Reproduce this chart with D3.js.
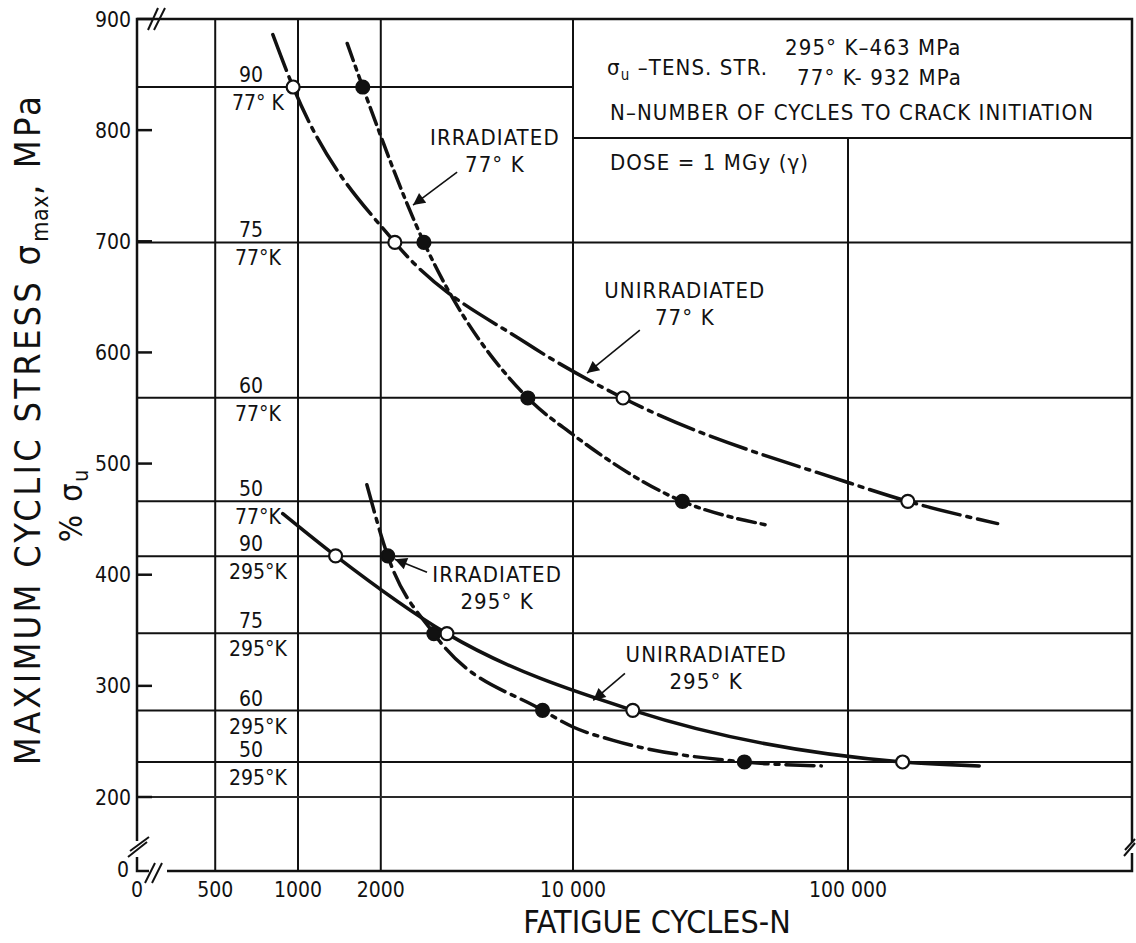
<!DOCTYPE html>
<html>
<head>
<meta charset="utf-8">
<title>Fatigue cycles vs maximum cyclic stress</title>
<script src="https://cdn.jsdelivr.net/npm/d3@7/dist/d3.min.js"></script>
<style>
  body { margin: 0; background: #fff; }
  text { font-family: "DejaVu Sans Condensed", "DejaVu Sans", sans-serif; font-stretch: condensed; fill: #111; }
</style>
</head>
<body>
<svg id="chart" width="1136" height="943"></svg>
<script>
// ---- values ----
const yTickValues = [900, 800, 700, 600, 500, 400, 300, 200];
const xGridValues = [500, 1000, 2000, 10000, 100000];
const xTickLabels = ["500", "1000", "2000", "10 000", "100 000"];

// % of tensile strength lines (77 K: 932 MPa, 295 K: 463 MPa)
const pctStress = [838.8, 699, 559.2, 466, 416.7, 347.3, 277.8, 231.5];
const pctNumbers = ["90", "75", "60", "50", "90", "75", "60", "50"];
const pctTemps = ["77° K", "77°K", "77°K", "77°K", "295°K", "295°K", "295°K", "295°K"];

// curves: [cycles N, stress MPa]
const unirr77Curve = [[810, 886], [960, 838.8], [2250, 699], [6800, 608], [15200, 559], [100000, 483], [165000, 466], [350000, 446]];
const unirr77Points = [[960, 838.8], [2250, 699], [15200, 559], [165000, 466]];

const irr77Curve = [[1510, 878], [1720, 838.8], [2870, 699], [6850, 559], [10000, 526], [25000, 466], [50000, 445]];
const irr77Points = [[1720, 838.8], [2870, 699], [6850, 559], [25000, 466]];

const unirr295Curve = [[880, 455], [1370, 417], [3480, 347], [16500, 278], [158000, 231.5], [300000, 228]];
const unirr295Points = [[1370, 417], [3480, 347], [16500, 278], [158000, 231.5]];

const irr295Curve = [[1780, 481], [2120, 417], [3120, 347], [7750, 278], [10000, 263], [14000, 251], [42000, 231.5], [80000, 228]];
const irr295Points = [[2120, 417], [3120, 347], [7750, 278], [42000, 231.5]];

// annotation labels: text anchor, arrow start, arrow tip (N, MPa)
const notes = [
  {lines: ["IRRADIATED", "77° K"], at: [5200, 786.6], from: [3790, 762.3], to: [2620, 732.6]},
  {lines: ["UNIRRADIATED", "77° K"], at: [25500, 648.9], from: [17500, 620], to: [11250, 581.4]},
  {lines: ["IRRADIATED", "295° K"], at: [5300, 393.3], from: [2945, 402.3], to: [2250, 414]},
  {lines: ["UNIRRADIATED", "295° K"], at: [30500, 321.3], from: [15450, 311.3], to: [11850, 287]}
];

// ---- layout ----
const svg = d3.select("#chart");
const left = 137, right = 1132, bottom = 871;

const x = d3.scaleLog().domain([1000, 100000]).range([298, 848]);
const y = d3.scaleLinear().domain([200, 900]).range([797, 19]);
const plotTop = y(900);
const legendBottom = 138;

const defs = svg.append("defs");
defs.append("marker")
  .attr("id", "arrow").attr("viewBox", "0 0 10 10")
  .attr("refX", 10).attr("refY", 5)
  .attr("markerWidth", 19).attr("markerHeight", 12)
  .attr("markerUnits", "userSpaceOnUse").attr("orient", "auto")
  .append("path").attr("d", "M0,0L10,5L0,10Z").attr("fill", "#111");

const grid = svg.append("g").attr("stroke", "#111").attr("stroke-width", 2);

// vertical grid
grid.selectAll("line.v")
  .data(xGridValues)
  .enter().append("line")
  .attr("x1", d => x(d)).attr("x2", d => x(d))
  .attr("y1", plotTop).attr("y2", bottom);

// horizontal % lines
grid.selectAll("line.h")
  .data(pctStress)
  .enter().append("line")
  .attr("x1", left).attr("x2", right)
  .attr("y1", d => y(d)).attr("y2", d => y(d));

// 200 MPa line, a little lighter like the scan
grid.append("line")
  .attr("x1", left).attr("x2", right)
  .attr("y1", y(200)).attr("y2", y(200))
  .attr("stroke", "#2a2a2a").attr("stroke-width", 1.8);

// legend box (covers the grid behind it)
const lx = x(10000);
svg.append("rect")
  .attr("x", lx).attr("y", plotTop)
  .attr("width", right - lx).attr("height", legendBottom - plotTop)
  .attr("fill", "#fff").attr("stroke", "#111").attr("stroke-width", 2);

// frame with breaks
const frame = svg.append("g").attr("stroke", "#111").attr("stroke-width", 2.5).attr("fill", "none");
frame.append("path").attr("d", `M${left},${bottom - 30}V${plotTop}H${right}V${bottom - 28}`);
frame.append("path").attr("d", `M${right},${bottom - 18}V${bottom}H${left + 30}`);
frame.append("path").attr("d", `M${left},${bottom - 14}V${bottom}H${left + 12}`);
const breaks = [
  [[148, 30], [158, 8]], [[154, 30], [165, 8]],
  [[128, 857], [147, 842]], [[130, 851], [149, 837]],
  [[145, 883], [155, 863]], [[152, 883], [162, 863]],
  [[1124, 856], [1135, 843]], [[1125, 850], [1135, 839]]
];
frame.selectAll("line.brk").data(breaks).enter().append("line")
  .attr("stroke-width", 2)
  .attr("x1", d => d[0][0]).attr("y1", d => d[0][1])
  .attr("x2", d => d[1][0]).attr("y2", d => d[1][1]);

// y ticks
svg.append("g").selectAll("line")
  .data(yTickValues)
  .enter().append("line")
  .attr("x1", left).attr("x2", left + 15)
  .attr("y1", d => y(d)).attr("y2", d => y(d))
  .attr("stroke", "#111").attr("stroke-width", 2.5);

svg.append("g").selectAll("text")
  .data(yTickValues)
  .enter().append("text")
  .attr("x", left - 6).attr("y", d => y(d))
  .attr("dy", "0.36em").attr("text-anchor", "end")
  .attr("font-size", 21)
  .text(d => d);

svg.append("text").attr("x", 129).attr("y", 877).attr("text-anchor", "end").attr("font-size", 21).text("0");
svg.append("text").attr("x", left).attr("y", 897).attr("text-anchor", "middle").attr("font-size", 21).text("0");

// x tick labels
svg.append("g").selectAll("text")
  .data(xGridValues)
  .enter().append("text")
  .attr("x", d => x(d)).attr("y", 897)
  .attr("text-anchor", "middle").attr("font-size", 21)
  .text((d, i) => xTickLabels[i]);

// % labels
const pl = svg.append("g").attr("font-size", 21).attr("text-anchor", "middle");
pl.selectAll("text.n").data(pctStress).enter().append("text")
  .attr("x", 251).attr("y", d => y(d) - 5)
  .text((d, i) => pctNumbers[i]);
pl.selectAll("text.t").data(pctStress).enter().append("text")
  .attr("x", 258).attr("y", d => y(d) + 23)
  .text((d, i) => pctTemps[i]);

// axis titles
const yt = svg.append("text")
  .attr("transform", "translate(40,429) rotate(-90)")
  .attr("text-anchor", "middle").attr("font-size", 36)
  .attr("letter-spacing", 3.2);
yt.append("tspan").text("MAXIMUM CYCLIC STRESS σ");
yt.append("tspan").attr("font-size", 23).attr("dy", 8).attr("letter-spacing", 0.5).text("max");
yt.append("tspan").attr("dy", -8).text(", MPa");

const yt2 = svg.append("text")
  .attr("transform", "translate(82,505) rotate(-90)")
  .attr("text-anchor", "middle").attr("font-size", 32)
  .attr("letter-spacing", 2);
yt2.append("tspan").text("% σ");
yt2.append("tspan").attr("font-size", 21).attr("dy", 6).text("u");

svg.append("text")
  .attr("x", 657).attr("y", 933)
  .attr("text-anchor", "middle").attr("font-size", 32)
  .text("FATIGUE CYCLES-N");

// legend text
const lg = svg.append("g").attr("font-size", 22).attr("letter-spacing", 1.1);
const t1 = lg.append("text").attr("x", 607).attr("y", 75);
t1.append("tspan").text("σ");
t1.append("tspan").attr("font-size", 15).attr("dy", 5).text("u");
t1.append("tspan").attr("dy", -5).text(" –TENS. STR.");
lg.append("text").attr("x", 785).attr("y", 55).text("295° K–463 MPa");
lg.append("text").attr("x", 797).attr("y", 85).text("77° K- 932 MPa");
lg.append("text").attr("x", 610).attr("y", 120).text("N–NUMBER OF CYCLES TO CRACK INITIATION");
lg.append("text").attr("x", 610).attr("y", 170).text("DOSE = 1 MGy (γ)");

// curves
const line = d3.line()
  .x(d => x(d[0])).y(d => y(d[1]))
  .curve(d3.curveMonotoneX);

const series = [
  {curve: unirr77Curve, points: unirr77Points, open: true, dash: "38,7,4,7"},
  {curve: irr77Curve, points: irr77Points, open: false, dash: "18,6,4,6"},
  {curve: unirr295Curve, points: unirr295Points, open: true, dash: null},
  {curve: irr295Curve, points: irr295Points, open: false, dash: "28,7,4,7"}
];

svg.append("g").selectAll("path")
  .data(series)
  .enter().append("path")
  .attr("d", d => line(d.curve))
  .attr("fill", "none").attr("stroke", "#111")
  .attr("stroke-width", 3.5).attr("stroke-linecap", "round")
  .attr("stroke-dasharray", d => d.dash);

series.forEach(s => {
  svg.append("g").selectAll("circle")
    .data(s.points)
    .enter().append("circle")
    .attr("cx", d => x(d[0])).attr("cy", d => y(d[1]))
    .attr("r", 6.5)
    .attr("fill", s.open ? "#fff" : "#111")
    .attr("stroke", "#111").attr("stroke-width", 2.2);
});

// annotations
const ann = svg.append("g").attr("font-size", 22).attr("letter-spacing", 1.1).attr("text-anchor", "middle");
notes.forEach(n => {
  const t = ann.append("text").attr("x", x(n.at[0])).attr("y", y(n.at[1]));
  n.lines.forEach((s, i) => t.append("tspan").attr("x", x(n.at[0])).attr("dy", i ? 27 : 0).text(s));
  ann.append("line")
    .attr("x1", x(n.from[0])).attr("y1", y(n.from[1]))
    .attr("x2", x(n.to[0])).attr("y2", y(n.to[1]))
    .attr("stroke", "#111").attr("stroke-width", 1.6)
    .attr("marker-end", "url(#arrow)");
});
</script>
</body>
</html>
